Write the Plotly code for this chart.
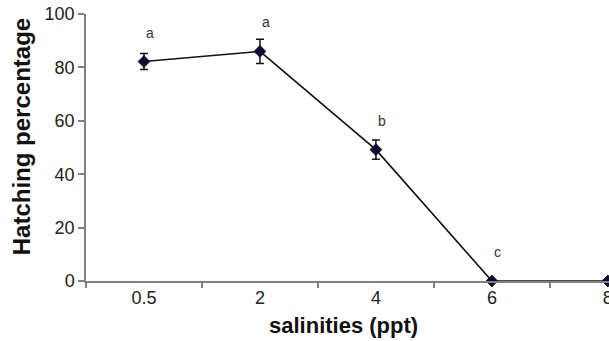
import plotly.graph_objects as go

salinities = ["0.5", "2", "4", "6", "8"]
hatching = [82.2, 86.0, 49.2, 0.0, 0.0]
errors = [3.0, 4.5, 3.6, 0.0, 0.0]
letters = ["a", "a", "b", "c", "c"]
y_ticks = [0, 20, 40, 60, 80, 100]

FONT = "Liberation Sans, Arial, sans-serif"

fig = go.Figure()
fig.add_trace(go.Scatter(
    x=salinities, y=hatching,
    mode="lines+markers",
    line=dict(color="#111111", width=1.6),
    marker=dict(symbol="diamond", size=9, color="#0b0b35",
                line=dict(color="#0b0b35", width=1)),
    error_y=dict(type="data", array=errors, visible=True,
                 color="#111111", thickness=1.5, width=4),
    cliponaxis=False,
    showlegend=False,
))

for i, (val, lab) in enumerate(zip(hatching, letters)):
    fig.add_annotation(x=i, y=val, text=lab, showarrow=False,
                       xshift=6, yshift=29,
                       font=dict(family=FONT, size=14, color="#333333"))

fig.add_annotation(xref="paper", yref="paper", x=-0.124, y=0.539,
                   text="<b>Hatching percentage</b>", textangle=-90,
                   showarrow=False, xanchor="center", yanchor="middle",
                   font=dict(family=FONT, size=24, color="#111111"))
fig.add_annotation(xref="paper", yref="paper", x=0.493, y=-0.165,
                   text="<b>salinities (ppt)</b>",
                   showarrow=False, xanchor="center", yanchor="middle",
                   font=dict(family=FONT, size=22, color="#111111"))

fig.update_layout(
    width=609, height=341,
    margin=dict(l=86, r=0, t=14, b=60, autoexpand=False),
    paper_bgcolor="white", plot_bgcolor="white",
    font=dict(family=FONT, size=18, color="#222222"),
    xaxis=dict(
        type="category", range=[-0.5, 4.01], automargin=False,
        tickson="boundaries", ticks="outside", ticklen=5,
        tickcolor="#808080", tickwidth=1.5,
        showline=True, linecolor="#808080", linewidth=1.5,
        showgrid=False, zeroline=False, ticklabeloverflow="allow",
        tickfont=dict(family=FONT, size=18, color="#222222"),
    ),
    yaxis=dict(
        range=[0, 100], tickvals=y_ticks, automargin=False,
        ticks="outside", ticklen=6, tickcolor="#808080", tickwidth=1.5,
        showline=True, linecolor="#808080", linewidth=1.5,
        showgrid=False, zeroline=False, ticklabeloverflow="allow",
        tickfont=dict(family=FONT, size=18, color="#222222"),
    ),
)

fig.write_html(
    "out.html",
    config={"displayModeBar": False},
    post_script="document.body.style.margin='0';document.body.style.overflow='hidden';",
)
